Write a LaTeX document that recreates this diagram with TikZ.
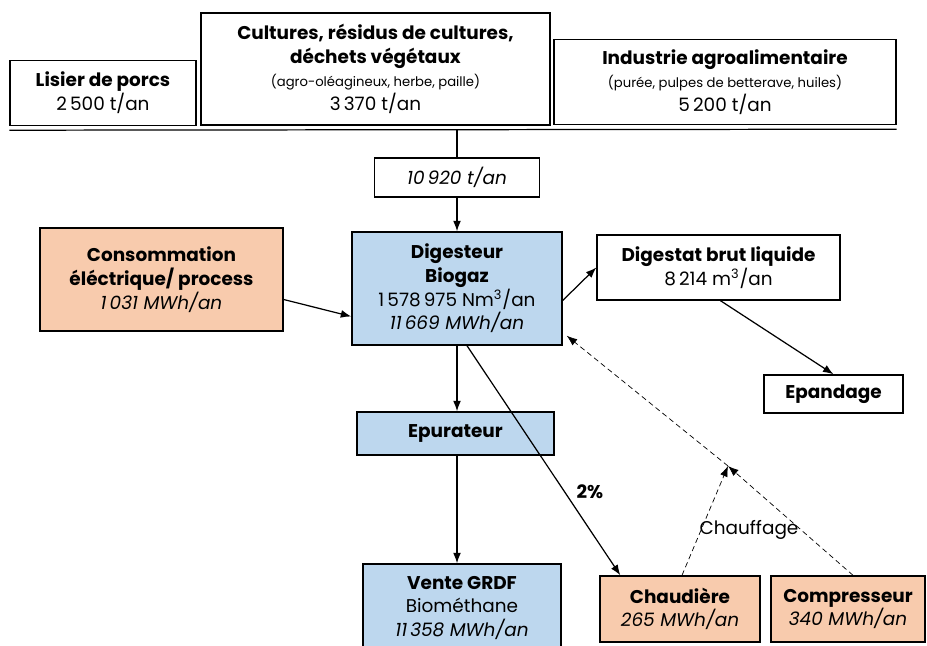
\documentclass[tikz,border=0pt]{standalone}
\usepackage{fontspec}
\setmainfont{Poppins}
\usetikzlibrary{calc}
\usetikzlibrary{arrows.meta}
\definecolor{peachfill}{RGB}{248,203,173}
\definecolor{bluefill}{RGB}{189,215,238}
\newcommand{\petit}{\fontsize{7.5}{10}\selectfont}

\begin{document}
\begin{tikzpicture}
        [
        x=0.02cm, y=-0.02cm,
        every node/.style={align=center,inner sep=1pt,font=\fontsize{10.5}{13.5}\selectfont},
        box/.style={draw,line width=0.8pt,fill=white},
        peach/.style={box,fill=peachfill},
        blue/.style={box,fill=bluefill},
        link/.style={line width=0.7pt},
        >={Latex[length=6pt,width=4.5pt]}
        ]
        \clip (0,0) rectangle (927,646);

        % entrants
        \node[box,minimum width=3.72cm,minimum height=1.3cm] (lisier) at (103,93)
            {\textbf{Lisier de porcs}\\2\,500 t/an};
        \node[box,minimum width=6.98cm,minimum height=2.24cm] (cultures) at (375.5,69)
            {\textbf{Cultures, résidus de cultures,}\\\textbf{déchets végétaux}\\{\petit(agro-oléagineux, herbe, paille)}\\3\,370 t/an};
        \node[box,minimum width=6.84cm,minimum height=1.7cm] (industrie) at (725,82)
            {\textbf{Industrie agroalimentaire}\\{\petit(purée, pulpes de betterave, huiles)}\\5\,200 t/an};
        \node[box,minimum width=3.3cm,minimum height=0.78cm] (flux) at (457,177.5)
            {\textit{10\,920 t/an}};

        % process
        \node[peach,minimum width=4.86cm,minimum height=2.06cm] (conso) at (161.5,279.5)
            {\textbf{Consommation}\\\textbf{éléctrique/ process}\\\textit{1\,031 MWh/an}};
        \node[blue,minimum width=4.2cm,minimum height=2.26cm] (digesteur) at (457,288.5)
            {\textbf{Digesteur}\\\textbf{Biogaz}\\1\,578\,975 Nm\textsuperscript{3}/an\\\textit{11\,669 MWh/an}};
        \node[box,minimum width=4.86cm,minimum height=1.3cm] (digestat) at (718.5,267.5)
            {\textbf{Digestat brut liquide}\\8\,214 m\textsuperscript{3}/an};
        \node[box,minimum width=2.78cm,minimum height=0.76cm] (epandage) at (833.5,394)
            {\textbf{Epandage}};
        \node[blue,minimum width=3.94cm,minimum height=0.86cm] (epurateur) at (455.5,433.5)
            {\textbf{Epurateur}};

        % sorties
        \node[blue,minimum width=3.96cm,minimum height=1.76cm] (vente) at (462,608)
            {\textbf{Vente GRDF}\\Biométhane\\\textit{11\,358 MWh/an}};
        \node[peach,minimum width=3.2cm,minimum height=1.32cm] (chaudiere) at (680,609)
            {\textbf{Chaudière}\\\textit{265 MWh/an}};
        \node[peach,minimum width=3.08cm,minimum height=1.32cm] (compresseur) at (848,609)
            {\textbf{Compresseur}\\\textit{340 MWh/an}};

        \node (pct) at (590,492) {\textbf{2\%}};
        \node (chauffage) at (749,530) {Chauffage};

        \coordinate (merge) at (457,129);
        \coordinate (junction) at (728,466);

        \draw[link] ($(lisier.south west)+(0,4)$) -- ($(industrie.south east)+(0,4)$);
        \draw[link] (merge) -- (flux);
        \draw[link,->] (flux) -- (digesteur);
        \draw[link,->] ($(conso.east)+(0,20)$) -- ($(digesteur.west)+(0,28)$);
        \draw[link,->] ($(digesteur.east)+(0,12)$) -- (digestat.west);
        \draw[link,->] ($(digestat.south)+(2,0)$) -- (epandage.north);
        \draw[link,->] (digesteur.south) -- (digesteur.south |- epurateur.north);
        \draw[link,->] (digesteur.south |- epurateur.south) -- (digesteur.south |- vente.north);
        \draw[link,->] ($(digesteur.south)+(10,0)$) -- ($(chaudiere.north west)+(21,0)$);
        \draw[->,densely dashed] ($(chaudiere.north)+(2,0)$) -- (junction);
        \draw[->,densely dashed] ($(compresseur.north)+(5,0)$) -- (junction);
        \draw[->,densely dashed] (junction) -- ($(digesteur.south east)+(4,-10)$);
    \end{tikzpicture}
\end{document}
